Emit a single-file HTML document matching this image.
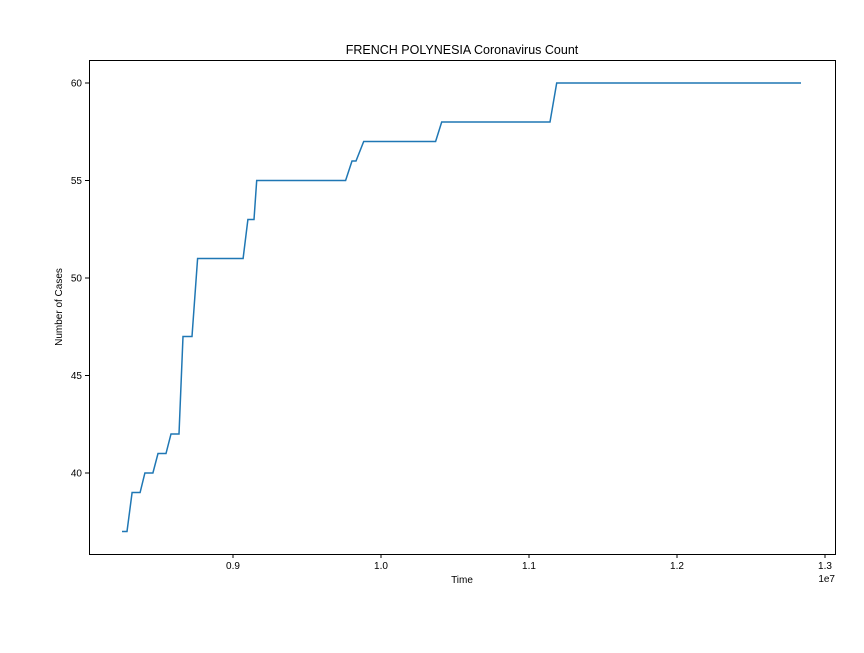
<!DOCTYPE html>
<html><head><meta charset="utf-8"><style>
body{margin:0;background:#fff;}
text{font-family:"Liberation Sans","DejaVu Sans",sans-serif;fill:#000;}
</style></head><body>
<svg id="chart" width="864" height="648">
<rect x="0" y="0" width="864" height="648" fill="#fff"/>
<text x="462" y="54" font-size="12.5" text-anchor="middle">FRENCH POLYNESIA Coronavirus Count</text>
<text x="462" y="583" font-size="10" text-anchor="middle">Time</text>
<text x="62" y="307" font-size="10" text-anchor="middle" transform="rotate(-90 62 307)">Number of Cases</text>
<text x="835" y="582" font-size="10" text-anchor="end">1e7</text>
<g id="ticks"></g>
<path id="line" fill="none" stroke="#1f77b4" stroke-width="1.5"/>
<rect x="89.5" y="60.5" width="746" height="494" fill="none" stroke="#000" stroke-width="1"/>
</svg>
<script>
const times=[0.825,0.8284,0.8318,0.8372,0.8405,0.8459,0.8493,0.8547,0.8581,0.8635,0.8662,0.8723,0.8761,0.9068,0.9101,0.9142,0.916,0.9761,0.9804,0.9831,0.9883,1.0369,1.041,1.1142,1.1187,1.2838];
const cases=[37,37,39,39,40,40,41,41,42,42,47,47,51,51,53,53,55,55,56,56,57,57,58,58,60,60];
const xTicks=[0.9,1.0,1.1,1.2,1.3];
const xTickLabels=["0.9","1.0","1.1","1.2","1.3"];
const yTicks=[40,45,50,55,60];
const yTickLabels=["40","45","50","55","60"];
function sx(v){return 233+(v-0.9)*1480;}
function sy(v){return 83+(60-v)*19.5;}
const ns="http://www.w3.org/2000/svg";
const g=document.getElementById('ticks');
function mk(t,a){const e=document.createElementNS(ns,t);for(const k in a)e.setAttribute(k,a[k]);return e;}
xTicks.forEach((v,i)=>{const x=sx(v);
const l=mk('line',{x1:x,x2:x,y1:554,y2:558,stroke:'#000'});


g.appendChild(l);
const t=mk('text',{x:x,y:569,'font-size':10,'text-anchor':'middle'});


t.textContent=xTickLabels[i];g.appendChild(t);});
yTicks.forEach((v,i)=>{const y=sy(v);
const l=mk('line',{x1:85,x2:89,y1:y,y2:y,stroke:'#000'});


g.appendChild(l);
const t=mk('text',{x:82,y:y+3.5,'font-size':10,'text-anchor':'end'});


t.textContent=yTickLabels[i];g.appendChild(t);});
document.getElementById('line').setAttribute('d',times.map((v,i)=>(i?'L':'M')+sx(v).toFixed(1)+','+sy(cases[i]).toFixed(1)).join(''));
</script>
</body></html>
